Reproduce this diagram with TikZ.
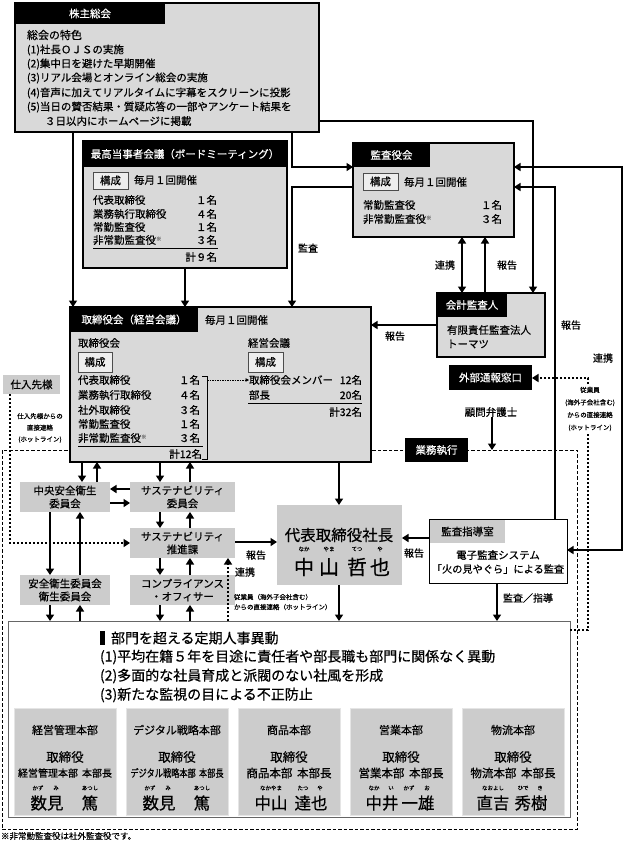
\documentclass[tikz,border=0pt]{standalone}
\usepackage{fontspec}
\usepackage{graphicx}
\setmainfont{Noto Sans CJK JP}[FakeBold=0.5]
\usetikzlibrary{arrows.meta}

\definecolor{boxgray}{HTML}{D9D9D9}
\definecolor{cgray}{HTML}{CCCCCC}
\definecolor{kgray}{HTML}{EEEEEE}

\newcommand\fsz[1]{\fontsize{#1}{#1}\selectfont}
\newcommand\kome{\raisebox{0.55ex}{\textcolor{black!55}{\fontsize{5.5}{5.5}\selectfont ※}}}
\newcommand\rbox[7][]{\node[#1,minimum width={(#5-#3)*1pt},minimum height={(#6-#4)*1pt}] (#2) at ({(#3+#5)/2},{(#4+#6)/2}) {#7};}
\newcommand\tx[5][]{\node[txt,#1] (#2) at (#3,#4) {#5};}

\tikzset{
 txt/.style={inner sep=0pt,outer sep=0pt,font=\fsz{10.5}},
 boxbase/.style={inner sep=0pt,outer sep=0pt},
 gbox/.style={boxbase,draw=black,line width=1.2pt,fill=boxgray},
 hdr/.style={boxbase,fill=black,text=white,font=\fsz{10.5}},
 kousei/.style={boxbase,draw=black!70,line width=0.8pt,fill=kgray,font=\fsz{10.5}},
 cbox/.style={boxbase,fill=cgray,align=center,font=\fontsize{10.5}{13}\selectfont},
 sbox/.style={boxbase,fill=cgray},
 wbox/.style={boxbase,draw=black,line width=1pt,fill=white},
 tabg/.style={boxbase,fill=cgray,font=\fsz{10.5}},
 bbox/.style={boxbase,draw=black!60,line width=1pt,fill=white},
 dbox/.style={boxbase,fill=cgray,draw=black!10,line width=1pt},
 arr/.style={line width=2pt,-{Triangle[length=6.5pt,width=8pt]}},
 darr/.style={line width=2pt,{Triangle[length=6.5pt,width=8pt]}-{Triangle[length=6.5pt,width=8pt]}},
 hot/.style={line width=2.4pt,dash pattern=on 2.4pt off 1.6pt,-{Triangle[length=6.5pt,width=8pt]}},
 frame/.style={line width=0.9pt,dash pattern=on 3.5pt off 2pt},
 dotarr/.style={line width=0.6pt,dash pattern=on 1.5pt off 1pt,-{Triangle[length=3.5pt,width=3.5pt]}},
 uline/.style={line width=0.7pt},
 lbl/.style={txt,font=\fsz{10}},
 small/.style={txt,font=\fsz{6.5}},
 ruby/.style={txt,font=\fsz{5.5}},
 nm/.style={txt,font=\fsz{16.5}},
}

\begin{document}
\begin{tikzpicture}[x=1pt,y=-1pt,line join=miter]
\useasboundingbox (0,0) rectangle (626,841);
\fill[white] (0,0) rectangle (626,841);

% helper coordinates
\foreach \v in {10,50,73,80,82,97,160,185,190,228,292,339,462,485,492,497,533,555,588,622}{\coordinate (X\v) at (\v,0);}
\foreach \v in {121,167,187,325,378,489,503,538,542,543,550,630}{\coordinate (Y\v) at (0,\v);}
\coordinate (fr) at (492,450);
\coordinate (brk) at (207,380);

% business execution frame
\draw[frame] (2,450) rectangle (577,829);

% ===== 株主総会 =====
\rbox[gbox]{kabu}{15}{3}{319}{132}{}
\rbox[hdr]{kabuh}{15}{3}{165}{24}{株主総会}
\tx[anchor=west,font=\fsz{11}]{k0}{27}{35}{総会の特色}
\tx[anchor=west]{k1}{27}{50}{(1)社長ＯＪＳの実施}
\tx[anchor=west]{k2}{27}{64}{(2)集中日を避けた早期開催}
\tx[anchor=west]{k3}{27}{78}{(3)リアル会場とオンライン総会の実施}
\tx[anchor=west]{k4}{27}{93}{(4)音声に加えてリアルタイムに字幕をスクリーンに投影}
\tx[anchor=west]{k5}{27}{107}{(5)当日の賛否結果・質疑応答の一部やアンケート結果を}
\tx[anchor=west]{k6}{45}{121}{３日以内にホームページに掲載}

% ===== 最高当事者会議 =====
\rbox[gbox]{bm}{83}{141}{287}{268}{}
\rbox[hdr]{bmh}{83}{141}{287}{167}{最高当事者会議（ボードミーティング）}
\rbox[kousei]{bmk}{93}{172}{128}{189}{構成}
\tx[anchor=west]{bmm}{134}{180}{毎月１回開催}
\tx[anchor=west]{bm1}{93}{200}{代表取締役}
\tx[anchor=east]{bm1n}{217}{200}{１名}
\tx[anchor=west]{bm2}{93}{214}{業務執行取締役}
\tx[anchor=east]{bm2n}{217}{214}{４名}
\tx[anchor=west]{bm3}{93}{227}{常勤監査役}
\tx[anchor=east]{bm3n}{217}{227}{１名}
\tx[anchor=west]{bm4}{93}{240}{非常勤監査役\kome}
\tx[anchor=east]{bm4n}{217}{240}{３名}
\draw[uline] (93,248) -- (218,248);
\tx[anchor=east]{bmt}{217}{257}{計９名}

% ===== 監査役会 =====
\rbox[gbox]{kan}{353}{143}{514}{237}{}
\rbox[hdr]{kanh}{353}{143}{430}{167}{監査役会}
\rbox[kousei]{kank}{363}{173}{398}{190}{構成}
\tx[anchor=west]{kanm}{404}{182}{毎月１回開催}
\tx[anchor=west]{kan1}{363}{205}{常勤監査役}
\tx[anchor=east]{kan1n}{502}{205}{１名}
\tx[anchor=west]{kan2}{363}{219}{非常勤監査役\kome}
\tx[anchor=east]{kan2n}{502}{219}{３名}

% ===== 取締役会（経営会議） =====
\rbox[gbox]{tori}{70}{307}{371}{462}{}
\rbox[hdr]{torih}{70}{307}{198}{332}{取締役会（経営会議）}
\tx[anchor=west]{torim}{205}{320}{毎月１回開催}
\tx[anchor=west]{tori0}{78}{343}{取締役会}
\rbox[kousei]{torik}{78}{352}{112}{372}{構成}
\tx[anchor=west]{tr1}{78}{380}{代表取締役}
\tx[anchor=east]{tr1n}{200}{380}{１名}
\tx[anchor=west]{tr2}{78}{395}{業務執行取締役}
\tx[anchor=east]{tr2n}{200}{395}{４名}
\tx[anchor=west]{tr3}{78}{410}{社外取締役}
\tx[anchor=east]{tr3n}{200}{410}{３名}
\tx[anchor=west]{tr4}{78}{424}{常勤監査役}
\tx[anchor=east]{tr4n}{200}{424}{１名}
\tx[anchor=west]{tr5}{78}{438}{非常勤監査役\kome}
\tx[anchor=east]{tr5n}{200}{438}{３名}
\draw[uline] (78,446) -- (203,446);
\tx[anchor=east]{trt}{202}{454}{計12名}
\draw[line width=0.6pt] (202,376) -- (207,376) -- (207,459) -- (202,459);
\tx[anchor=west]{kei0}{248}{343}{経営会議}
\rbox[kousei]{keik}{248}{352}{283}{372}{構成}
\tx[anchor=west]{kei1}{249}{380}{取締役会メンバー}
\tx[anchor=east]{kei1n}{362}{380}{12名}
\tx[anchor=west]{kei2}{249}{395}{部長}
\tx[anchor=east]{kei2n}{362}{395}{20名}
\draw[uline] (248,403) -- (362,403);
\tx[anchor=east]{keit}{362}{412}{計32名}
\draw[dotarr] (brk) -- (kei1.west);

% ===== 会計監査人 =====
\rbox[gbox]{kaikei}{437}{293}{545}{357}{}
\rbox[hdr]{kaikeih}{437}{293}{507}{317}{会計監査人}
\tx[anchor=west]{kk1}{447}{330}{有限責任監査法人}
\tx[anchor=west]{kk2}{447}{344}{トーマツ}

% ===== 外部通報窓口・顧問弁護士・業務執行 =====
\rbox[hdr]{gaibu}{449}{365}{532}{390}{外部通報窓口}
\tx{komon}{491}{412}{顧問弁護士}
\rbox[hdr]{gyomu}{405}{438}{468}{462}{業務執行}

% ===== 仕入先様 =====
\rbox[sbox,font=\fsz{10.5}]{shiire}{3}{375}{60}{394}{仕入先様}

% ===== committees =====
\rbox[cbox]{chuo}{20}{482}{110}{512}{中央安全衛生\\委員会}
\rbox[cbox]{sus}{130}{482}{235}{512}{サステナビリティ\\委員会}
\rbox[cbox]{suishin}{130}{528}{235}{558}{サステナビリティ\\推進課}
\rbox[cbox]{anzen}{20}{575}{110}{605}{安全衛生委員会\\衛生委員会}
\rbox[cbox]{comp}{130}{575}{235}{605}{コンプライアンス\\・オフィサー}

% ===== 代表取締役社長 =====
\rbox[sbox]{shacho}{277}{505}{402}{585}{}
\tx[font=\fsz{15.5}]{shachot}{339}{535}{代表取締役社長}
\tx[ruby]{sr1}{304}{549}{なか}
\tx[ruby]{sr2}{329}{549}{やま}
\tx[ruby]{sr3}{357}{549}{てつ}
\tx[ruby]{sr4}{380}{549}{や}
\tx[font=\fsz{20}]{sn1}{304}{567}{中}
\tx[font=\fsz{20}]{sn2}{329}{567}{山}
\tx[font=\fsz{20}]{sn3}{357}{567}{哲}
\tx[font=\fsz{20}]{sn4}{380}{567}{也}

% ===== 監査指導室 =====
\rbox[wbox]{shido}{429}{519}{567}{583}{}
\rbox[tabg]{shidoh}{430}{520}{505}{543}{監査指導室}
\tx{shido1}{498}{555}{電子監査システム}
\tx[font=\fsz{10.2}]{shido2}{498}{569}{「火の見やぐら」による監査}

% ===== bottom box =====
\rbox[bbox]{bottom}{8}{621}{570}{817}{}
\rbox[boxbase,fill=black]{mark}{100}{631}{105}{645}{}
\tx[anchor=west,font=\fsz{14}]{b0}{111}{638}{部門を超える定期人事異動}
\tx[anchor=west,font=\fsz{14}]{b1}{100}{657}{(1)平均在籍５年を目途に責任者や部長職も部門に関係なく異動}
\tx[anchor=west,font=\fsz{14}]{b2}{100}{676}{(2)多面的な社員育成と派閥のない社風を形成}
\tx[anchor=west,font=\fsz{14}]{b3}{100}{695}{(3)新たな監視の目による不正防止}

% departments
\rbox[dbox]{d1}{14}{708}{116}{815}{}
\rbox[dbox]{d2}{126}{708}{228}{815}{}
\rbox[dbox]{d3}{238}{708}{340}{815}{}
\rbox[dbox]{d4}{350}{708}{452}{815}{}
\rbox[dbox]{d5}{462}{708}{564}{815}{}

\tx[font=\fsz{11}]{d1a}{65}{730}{経営管理本部}
\tx[font=\fsz{12.5}]{d1b}{65}{757}{取締役}
\tx[font=\fsz{10}]{d1c}{65}{773}{経営管理本部\hspace{0.4em}本部長}
\tx[ruby]{d1r1}{38}{788}{かず}
\tx[ruby]{d1r2}{56}{788}{み}
\tx[ruby]{d1r3}{90}{788}{あつし}
\tx[nm]{d1n1}{47}{803}{数見}
\tx[nm]{d1n2}{90}{803}{篤}

\tx[font=\fsz{11}]{d2a}{177}{730}{デジタル戦略本部}
\tx[font=\fsz{12.5}]{d2b}{177}{757}{取締役}
\tx[font=\fsz{10.5}]{d2c}{177}{773}{\scalebox{0.78}[1]{デジタル戦略本部\hspace{0.4em}本部長}}
\tx[ruby]{d2r1}{150}{788}{かず}
\tx[ruby]{d2r2}{168}{788}{み}
\tx[ruby]{d2r3}{202}{788}{あつし}
\tx[nm]{d2n1}{159}{803}{数見}
\tx[nm]{d2n2}{202}{803}{篤}

\tx[font=\fsz{11}]{d3a}{289}{730}{商品本部}
\tx[font=\fsz{12.5}]{d3b}{289}{757}{取締役}
\tx[font=\fsz{11.5}]{d3c}{289}{773}{商品本部\hspace{0.4em}本部長}
\tx[ruby]{d3r1}{271}{788}{なかやま}
\tx[ruby]{d3r2}{303}{788}{たつ}
\tx[ruby]{d3r3}{320}{788}{や}
\tx[nm]{d3n1}{271}{803}{中山}
\tx[nm]{d3n2}{311}{803}{達也}

\tx[font=\fsz{11}]{d4a}{401}{730}{営業本部}
\tx[font=\fsz{12.5}]{d4b}{401}{757}{取締役}
\tx[font=\fsz{11.5}]{d4c}{401}{773}{営業本部\hspace{0.4em}本部長}
\tx[ruby]{d4r1}{374}{788}{なか}
\tx[ruby]{d4r2}{391}{788}{い}
\tx[ruby]{d4r3}{409}{788}{かず}
\tx[ruby]{d4r4}{427}{788}{お}
\tx[nm]{d4n1}{382}{803}{中井}
\tx[nm]{d4n2}{418}{803}{一雄}

\tx[font=\fsz{11}]{d5a}{513}{730}{物流本部}
\tx[font=\fsz{12.5}]{d5b}{513}{757}{取締役}
\tx[font=\fsz{11.5}]{d5c}{513}{773}{物流本部\hspace{0.4em}本部長}
\tx[ruby]{d5r1}{493}{788}{なおよし}
\tx[ruby]{d5r2}{523}{788}{ひで}
\tx[ruby]{d5r3}{540}{788}{き}
\tx[nm]{d5n1}{493}{803}{直吉}
\tx[nm]{d5n2}{531}{803}{秀樹}

\tx[anchor=west,font=\fsz{8.5}]{foot}{1}{836}{※非常勤監査役は社外監査役です。}

% ===== connectors =====
\draw[arr] (kabu.south -| X73) -- (tori.north -| X73);
\draw[arr] (bm.south -| X185) -- (tori.north -| X185);
\draw[arr] (kabu.south -| X292) -- (X292 |- Y167) -- (kan.west |- Y167);
\draw[arr] (kan.west |- Y187) -- (X292 |- Y187) -- (tori.north -| X292);
\tx[anchor=west,font=\fsz{10}]{lkansa}{298}{248}{監査}
\draw[arr] (kabu.east |- Y121) -- (X533 |- Y121) -- (kaikei.north -| X533);
\draw[darr] (kan.south -| X462) -- (kaikei.north -| X462);
\draw[arr] (kaikei.north -| X485) -- (kan.south -| X485);
\tx[lbl]{lrenkei1}{445}{265}{連携}
\tx[lbl]{lhoukoku1}{507}{265}{報告}
\draw[arr] (kaikei.west |- Y325) -- (tori.east |- Y325);
\tx[lbl]{lhoukoku2}{395}{336}{報告}
\draw[arr] (shido.north -| X555) -- (X555 |- Y187) -- (kan.east |- Y187);
\tx[lbl]{lhoukoku3}{571}{325}{報告}
\draw[darr] (kan.east |- Y167) -- (X622 |- Y167) -- (X622 |- Y550) -- (shido.east |- Y550);
\tx[lbl]{lrenkei2}{603}{358}{連携}
\draw[hot] (bottom.east |- Y630) -- (X588 |- Y630) -- (X588 |- Y378) -- (gaibu.east |- Y378);
\node[small,fill=white,inner sep=1pt,align=center,font=\fontsize{6.5}{12.5}\selectfont] (hotr) at (590,409) {従業員\\(海外子会社含む)\\からの直接連絡\\(ホットライン)};
\draw[arr] (komon.south -| X492) -- (fr);

\draw[hot] (shiire.south -| X10) -- (X10 |- Y543) -- (suishin.west |- Y543);
\node[small,fill=white,inner sep=1pt,align=center,font=\fontsize{6.5}{11.5}\selectfont] (hotl) at (40,428) {仕入先様からの\\直接連絡\\(ホットライン)};

\draw[arr] (tori.south -| X82) -- (chuo.north -| X82);
\draw[arr] (chuo.north -| X97) -- (tori.south -| X97);
\draw[arr] (tori.south -| X160) -- (sus.north -| X160);
\draw[arr] (sus.north -| X190) -- (tori.south -| X190);
\draw[arr] (sus.west |- Y489) -- (chuo.east |- Y489);
\draw[arr] (chuo.east |- Y503) -- (sus.west |- Y503);
\draw[arr] (sus.south -| X160) -- (suishin.north -| X160);
\draw[arr] (suishin.north -| X190) -- (sus.south -| X190);
\draw[arr] (suishin.south -| X160) -- (comp.north -| X160);
\draw[arr] (comp.north -| X190) -- (suishin.south -| X190);
\draw[arr] (chuo.south -| X50) -- (anzen.north -| X50);
\draw[arr] (anzen.north -| X80) -- (chuo.south -| X80);
\draw[arr] (anzen.south -| X50) -- (bottom.north -| X50);
\draw[arr] (bottom.north -| X80) -- (anzen.south -| X80);
\draw[arr] (comp.south -| X160) -- (bottom.north -| X160);
\draw[arr] (bottom.north -| X190) -- (comp.south -| X190);

\draw[arr] (suishin.east |- Y542) -- (shacho.west |- Y542);
\tx[lbl]{lhoukoku4}{256}{555}{報告}
\draw[hot] (bottom.north -| X228) -- (suishin.south -| X228);
\tx[anchor=west,font=\fsz{10}]{lrenkei3}{235}{572}{連携}
\tx[anchor=west,small]{hb1}{234}{597}{従業員（海外子会社含む）}
\tx[anchor=west,small]{hb2}{234}{607}{からの直接連絡（ホットライン）}

\draw[arr] (tori.south -| X339) -- (shacho.north -| X339);
\draw[arr] (shacho.south -| X339) -- (bottom.north -| X339);
\draw[arr] (shido.west |- Y538) -- (shacho.east |- Y538);
\tx[lbl]{lhoukoku5}{414}{553}{報告}
\draw[arr] (shido.south -| X497) -- (bottom.north -| X497);
\tx[anchor=west,font=\fsz{10}]{lkansa2}{503}{598}{監査／指導}
\end{tikzpicture}
\end{document}
